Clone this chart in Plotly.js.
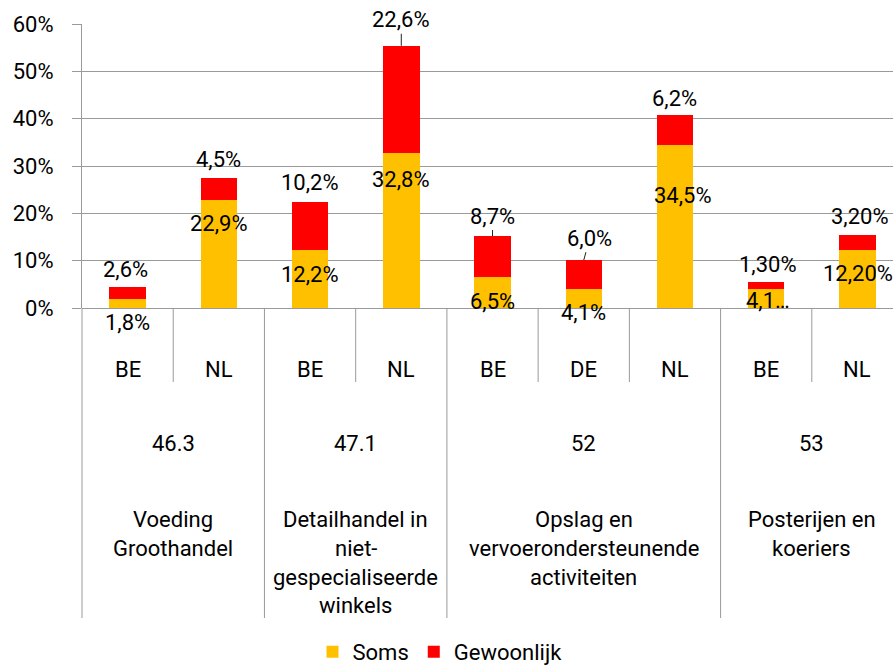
<!DOCTYPE html>
<html>
<head>
<meta charset="utf-8">
<script src="https://cdn.plot.ly/plotly-3.0.1.min.js"></script>
<style>html,body{margin:0;padding:0;background:#fff;}#chart{width:893px;height:666px;}</style>
</head>
<body>
<div id="chart"></div>
<script>
// ---- data ----
const countries = ['BE', 'NL', 'BE', 'NL', 'BE', 'DE', 'NL', 'BE', 'NL'];
const groupCodes = ['46.3', '47.1', '52', '53'];
const groupNames = [
  ['Voeding', 'Groothandel'],
  ['Detailhandel in', 'niet-', 'gespecialiseerde', 'winkels'],
  ['Opslag en', 'vervoerondersteunende', 'activiteiten'],
  ['Posterijen en', 'koeriers']
];
const groupSizes = [2, 2, 3, 2];
const soms = [0.018, 0.229, 0.122, 0.328, 0.065, 0.041, 0.345, 0.041, 0.122];
const gewoonlijk = [0.026, 0.045, 0.102, 0.226, 0.087, 0.060, 0.062, 0.013, 0.032];
const somsLabels = ['1,8%', '22,9%', '12,2%', '32,8%', '6,5%', '4,1%', '34,5%', '4,1…', '12,20%'];
const gewoonlijkLabels = ['2,6%', '4,5%', '10,2%', '22,6%', '8,7%', '6,0%', '6,2%', '1,30%', '3,20%'];

// ---- label placement (style) ----
const VOFF = 1; // glyph-centre correction
const somsShift = [[0, -22], [0, -23], [0, -23], [0, -26], [0, -23], [0, -23], [8, -50], [2, -11], [1, -22]];
const gewShift = [[-2, -19], [0, -20], [0, -20], [0, -27], [0, -21], [6, -23], [0, -18], [2, -19], [3, -20]];
const leader = [false, false, false, true, true, true, false, false, false];

const FONT = 'Roboto, "Noto Sans", sans-serif';
const FS = 22;
const TXT = '#000000';
const GRID = '#9a9a9a';

const xs = countries.map((_, i) => i);

const traces = [
  {type: 'bar', name: 'Soms', x: xs, y: soms, width: 0.4, marker: {color: '#FFC000'}, hoverinfo: 'skip'},
  {type: 'bar', name: 'Gewoonlijk', x: xs, y: gewoonlijk, width: 0.4, marker: {color: '#FF0000'}, hoverinfo: 'skip'}
];

// paper helpers: plot area px 82..893 horizontally, 24..308 vertically
const PL = 82, PW = 811;
const PT = 24, PB = 308, PH = PB - PT;
const py = px => (PB - px) / PH;
const pxp = px => (px - PL) / PW;

const annotations = [];
const mkText = (x, y, xref, text) => ({x: x, y: py(y + VOFF), xref: xref, yref: 'paper', text: text, showarrow: false,
  xanchor: 'center', yanchor: 'middle', font: {family: FONT, size: FS, color: TXT}});

xs.forEach(i => {
  annotations.push({x: i, y: soms[i], xref: 'x', yref: 'y', text: somsLabels[i], showarrow: false,
    xanchor: 'center', yanchor: 'middle',
    xshift: somsShift[i][0], yshift: somsShift[i][1] - VOFF, font: {family: FONT, size: FS, color: TXT}});
  annotations.push({x: i, y: soms[i] + gewoonlijk[i], xref: 'x', yref: 'y', text: gewoonlijkLabels[i], showarrow: true,
    ax: gewShift[i][0], ay: gewShift[i][1] + VOFF, axref: 'pixel', ayref: 'pixel', arrowhead: 0, arrowwidth: 1, standoff: 0,
    arrowcolor: leader[i] ? '#222' : 'rgba(0,0,0,0)', font: {family: FONT, size: FS, color: TXT}});
  annotations.push(mkText(i, 368, 'x', countries[i]));
});

const shapes = [];
const lineStyle = {color: GRID, width: 1};
// left axis extension
shapes.push({type: 'line', xref: 'paper', yref: 'paper', x0: 0, x1: 0, y0: 0, y1: py(618), line: lineStyle});
let start = 0;
groupSizes.forEach((n, g) => {
  const center = start + (n - 1) / 2;
  annotations.push(mkText(center, 442, 'x', groupCodes[g]));
  groupNames[g].forEach((line, k) => {
    annotations.push(mkText(center, 518 + 29 * k, 'x', line));
  });
  for (let k = 1; k < n; k++) {
    shapes.push({type: 'line', xref: 'x', yref: 'paper', x0: start + k - 0.5, x1: start + k - 0.5, y0: 0, y1: py(382), line: lineStyle});
  }
  start += n;
  if (start < xs.length) {
    shapes.push({type: 'line', xref: 'x', yref: 'paper', x0: start - 0.5, x1: start - 0.5, y0: 0, y1: py(618), line: lineStyle});
  }
});

const layout = {
  width: 893, height: 666,
  margin: {l: PL, r: 0, t: PT, b: 666 - PB, pad: 0, autoexpand: false},
  paper_bgcolor: '#fff', plot_bgcolor: '#fff',
  barmode: 'stack',
  showlegend: true,
  legend: {orientation: 'h', x: pxp(440), xanchor: 'center', y: py(652), yanchor: 'middle',
    font: {family: FONT, size: FS, color: TXT}, traceorder: 'normal'},
  xaxis: {range: [-0.5, 8.39], showticklabels: false, ticks: '', showgrid: false, zeroline: false, showline: false, fixedrange: true},
  yaxis: {range: [0, 0.6], dtick: 0.1, tickformat: '.0%', ticks: 'outside', ticklen: 9, tickcolor: GRID,
    showgrid: true, gridcolor: GRID, gridwidth: 1, zeroline: true, zerolinecolor: GRID, zerolinewidth: 1,
    showline: true, linecolor: GRID, linewidth: 1, ticklabelstandoff: 14,
    tickfont: {family: FONT, size: FS, color: TXT}, fixedrange: true},
  annotations: annotations,
  shapes: shapes
};

Plotly.newPlot('chart', traces, layout, {displayModeBar: false, staticPlot: true});
</script>
</body>
</html>
